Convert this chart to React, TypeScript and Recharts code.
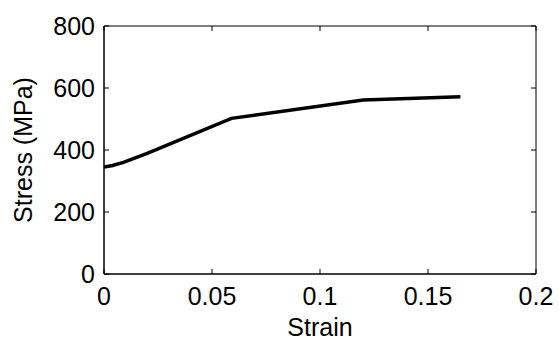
import React from 'react';
import { LineChart, Line, XAxis, YAxis, ReferenceArea, ReferenceLine } from 'recharts';

const strain = [0, 0.004, 0.009, 0.02, 0.059, 0.12, 0.165];
const stress = [345, 350, 360, 389, 502, 561, 572];

const xTicks = [0, 0.05, 0.1, 0.15, 0.2];
const yTicks = [0, 200, 400, 600, 800];

const data = strain.map((s, i) => ({ strain: s, stress: stress[i] }));

const X_MAX = 0.2;
const Y_MAX = 800;
// inward tick length (~5px) in data units
const TICK_X = 0.0023;
const TICK_Y = 16;

const FONT = 'Liberation Sans, Arial, Helvetica, sans-serif';
const tickStyle = { fill: '#000', fontSize: 25, fontFamily: FONT };

export default function App() {
    return (
        <div style={{ position: 'absolute', left: 0, top: 0, background: '#fff' }}>
            <LineChart
                width={559}
                height={341}
                data={data}
                margin={{ top: 26, right: 23, bottom: 0, left: 0 }}
            >
                <XAxis
                    dataKey="strain"
                    type="number"
                    domain={[0, X_MAX]}
                    ticks={xTicks}
                    height={67}
                    tickSize={-5}
                    tickMargin={18}
                    tick={tickStyle}
                    stroke="#000"
                    label={{ value: 'Strain', position: 'insideBottom', offset: 5, fill: '#000', fontSize: 25, fontFamily: FONT }}
                />
                <YAxis
                    type="number"
                    domain={[0, Y_MAX]}
                    ticks={yTicks}
                    width={104}
                    tickSize={-5}
                    tickMargin={14}
                    tick={tickStyle}
                    stroke="#000"
                    label={{ value: 'Stress (MPa)', angle: -90, position: 'insideLeft', offset: 23, fill: '#000', fontSize: 25, fontFamily: FONT, style: { textAnchor: 'middle' } }}
                />

                {/* box around the plot */}
                <ReferenceArea x1={0} x2={X_MAX} y1={0} y2={Y_MAX} fill="none" stroke="#000" strokeWidth={1} ifOverflow="visible" />

                {/* inward ticks on top and right sides */}
                {xTicks.map(t => (
                    <ReferenceLine key={'tx' + t} segment={[{ x: t, y: Y_MAX }, { x: t, y: Y_MAX - TICK_Y }]} stroke="#000" ifOverflow="visible" />
                ))}
                {yTicks.map(t => (
                    <ReferenceLine key={'ty' + t} segment={[{ x: X_MAX, y: t }, { x: X_MAX - TICK_X, y: t }]} stroke="#000" ifOverflow="visible" />
                ))}

                <Line
                    dataKey="stress"
                    type="linear"
                    stroke="#000"
                    strokeWidth={3.5}
                    dot={false}
                    isAnimationActive={false}
                />
            </LineChart>
        </div>
    );
}
